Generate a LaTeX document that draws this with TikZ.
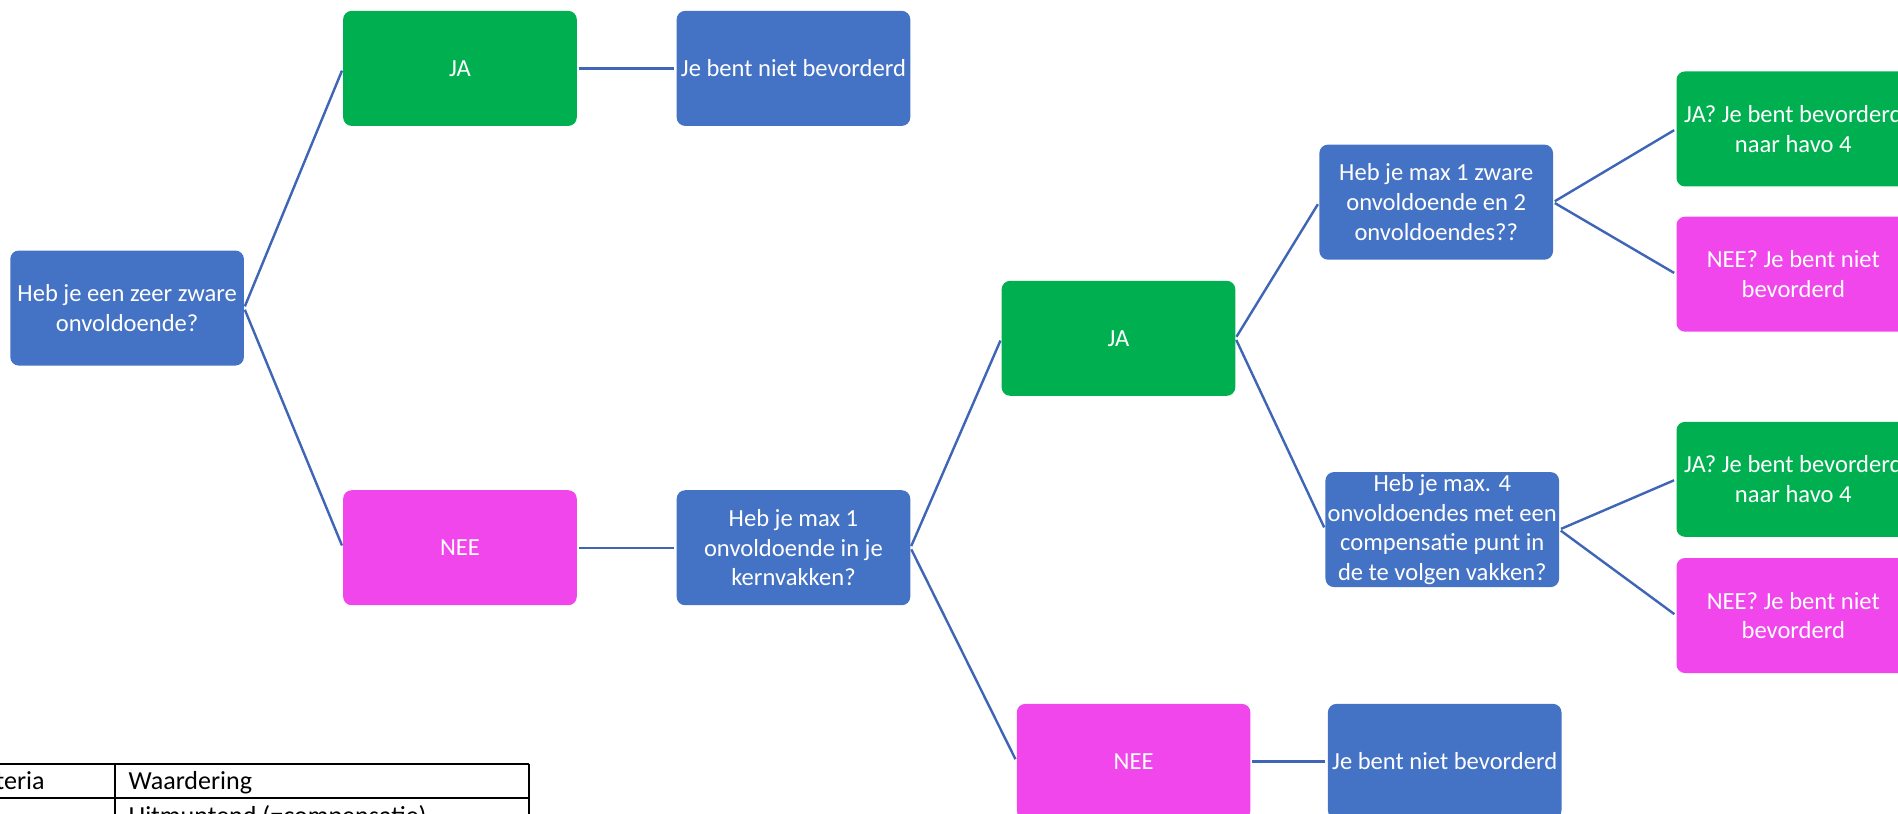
\documentclass[tikz,border=0pt]{standalone}
\usepackage{fontspec}
\setmainfont{Carlito}
\definecolor{boxblue}{HTML}{4472C4}
\definecolor{boxgreen}{HTML}{00B050}
\definecolor{boxpink}{HTML}{F046EC}
\definecolor{linec}{HTML}{3F66B6}
\tikzset{
  box/.style={rounded corners=7pt, minimum width=193pt, minimum height=95pt,
    text=white, align=center, inner sep=0pt, font=\fontsize{20.3}{24.6}\selectfont},
  bluebox/.style={box, fill=boxblue},
  greenbox/.style={box, fill=boxgreen},
  pinkbox/.style={box, fill=boxpink},
  conn/.style={draw=linec, line width=2pt, shorten <=1.5pt, shorten >=2pt},
  tabline/.style={draw=black, line width=1.4pt},
  tabtext/.style={text=black, inner sep=0pt, font=\fontsize{21.5}{25}\selectfont}
}
\begin{document}
\begin{tikzpicture}[x=1pt, y=-1pt]
\useasboundingbox (0,0) rectangle (1568,672);
% nodes
\node[bluebox] (q1) at (105,254.5) {Heb je een zeer zware\\onvoldoende?};
\node[greenbox] (ja1) at (380,56.5) {JA};
\node[bluebox] (res1) at (655.5,56.5) {Je bent niet bevorderd};
\node[pinkbox] (nee1) at (380,452.5) {NEE};
\node[bluebox] (q2) at (655.5,452.5) {Heb je max 1\\onvoldoende in je\\kernvakken?};
\node[greenbox] (ja2) at (924,279.5) {JA};
\node[pinkbox] (nee2) at (936.5,629) {NEE};
\node[bluebox] (res2) at (1193.5,629) {Je bent niet bevorderd};
\node[bluebox] (q3) at (1186.5,167) {Heb je max 1 zware\\onvoldoende en 2\\onvoldoendes??};
\node[bluebox] (q4) at (1191.5,437.5) {Heb je max. 4\\onvoldoendes met een\\compensatie punt in\\de te volgen vakken?};
\node[greenbox] (r1) at (1481.5,106.5) {JA? Je bent bevorderd\\naar havo 4};
\node[pinkbox] (r2) at (1481.5,226.5) {NEE? Je bent niet\\bevorderd};
\node[greenbox] (r3) at (1481.5,396) {JA? Je bent bevorderd\\naar havo 4};
\node[pinkbox] (r4) at (1481.5,508.5) {NEE? Je bent niet\\bevorderd};
% connectors
\draw[conn] (q1.east) -- (ja1.west);
\draw[conn] (q1.east) -- (nee1.west);
\draw[conn] (ja1.east) -- (res1.west);
\draw[conn] (nee1.east) -- (q2.west);
\draw[conn] (q2.east) -- (ja2.west);
\draw[conn] (q2.east) -- (nee2.west);
\draw[conn] (nee2.east) -- (res2.west);
\draw[conn] (ja2.east) -- (q3.west);
\draw[conn] (ja2.east) -- (q4.west);
\draw[conn] (q3.east) -- (r1.west);
\draw[conn] (q3.east) -- (r2.west);
\draw[conn] (q4.east) -- (r3.west);
\draw[conn] (q4.east) -- (r4.west);
% table (partly cut off)
\draw[tabline] (-10,631) -- (437,631);
\draw[tabline] (-10,659) -- (437,659);
\draw[tabline] (95,631) -- (95,690);
\draw[tabline] (437,631) -- (437,690);
\node[tabtext, anchor=base east] (tc1) at (37,652.5) {Criteria};
\node[tabtext, anchor=base west] (tc2) at (106,652.5) {Waardering};
\node[tabtext, anchor=base west] (tc3) at (106,681.5) {Uitmuntend (=compensatie)};
\end{tikzpicture}
\end{document}
